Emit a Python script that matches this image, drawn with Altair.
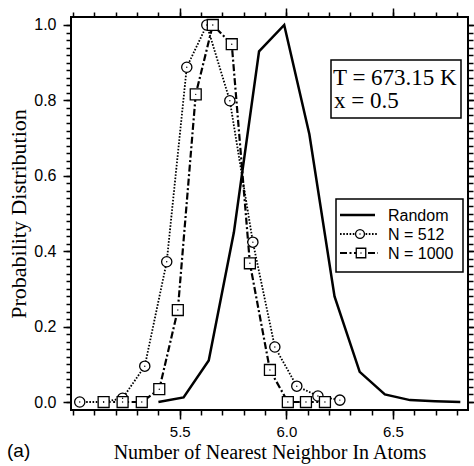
import altair as alt
import pandas as pd

# ---- data ----
random_x = [5.400, 5.518, 5.636, 5.754, 5.872, 5.990, 6.108, 6.226, 6.344, 6.462, 6.580, 6.698, 6.816]
random_y = [0.000, 0.012, 0.110, 0.450, 0.930, 1.000, 0.710, 0.280, 0.080, 0.020, 0.005, 0.002, 0.000]

n512_x = [5.031, 5.143, 5.232, 5.336, 5.439, 5.533, 5.627, 5.735, 5.843, 5.946, 6.049, 6.148, 6.251]
n512_y = [0.000, 0.000, 0.010, 0.095, 0.372, 0.888, 1.000, 0.799, 0.424, 0.146, 0.042, 0.016, 0.005]

n1000_x = [5.143, 5.232, 5.322, 5.404, 5.491, 5.575, 5.655, 5.744, 5.829, 5.923, 6.007, 6.092, 6.181]
n1000_y = [0.000, 0.000, 0.000, 0.034, 0.244, 0.816, 1.000, 0.949, 0.368, 0.085, 0.000, 0.000, 0.000]

x_major = [5.5, 6.0, 6.5]
x_minor = [round(5.0 + 0.1 * i, 2) for i in range(19)]
y_major = [0.0, 0.2, 0.4, 0.6, 0.8, 1.0]
y_minor = [round(0.02 * i, 2) for i in range(51)]

legend_labels = ["Random", "N = 512", "N = 1000"]
box_lines = ["T = 673.15 K", "x = 0.5"]
panel_label = "(a)"
x_title = "Number of Nearest Neighbor In Atoms"
y_title = "Probability Distribution"

df_r = pd.DataFrame({"x": random_x, "y": random_y})
df_5 = pd.DataFrame({"x": n512_x, "y": n512_y})
df_1 = pd.DataFrame({"x": n1000_x, "y": n1000_y})
one = pd.DataFrame({"a": [0]})

xs = alt.Scale(domain=[4.99, 6.852], nice=False, zero=False)
ys = alt.Scale(domain=[-0.0212, 1.0212], nice=False, zero=False)

SANS = "Liberation Sans"
SERIF = "Liberation Serif"


def xy(df, xaxis=None, yaxis=None):
    return dict(
        x=alt.X("x:Q", scale=xs, axis=xaxis),
        y=alt.Y("y:Q", scale=ys, axis=yaxis),
    )


def ax(orient, values, size, labels=False, title=None, pad=8, tpad=8, fmt=".1f",
       lsize=16, tsize=22):
    kw = dict(orient=orient, values=values, tickSize=size, tickWidth=1.5,
              tickColor="black", domain=False, grid=False, labels=labels,
              format=fmt)
    if labels:
        kw.update(labelFont=SANS, labelFontSize=lsize, labelColor="black",
                  labelPadding=pad)
    if title:
        kw.update(title=title, titleFont=SERIF, titleFontSize=tsize,
                  titleFontWeight="normal", titleColor="black",
                  titlePadding=tpad)
    else:
        kw.update(title=None)
    return alt.Axis(**kw)


inv = alt.Chart(df_r).mark_point(opacity=0)
axis_layers = [
    inv.encode(**xy(df_r,
                    ax("bottom", x_major, 9, True, x_title, pad=5, tpad=3,
                       lsize=15, tsize=20),
                    ax("left", y_major, 8, True, y_title, pad=7, tpad=3))),
    inv.encode(**xy(df_r, ax("bottom", x_minor, 5), ax("left", y_minor, 5))),
    inv.encode(**xy(df_r, ax("top", x_major, 9), ax("right", y_major, 8))),
    inv.encode(**xy(df_r, ax("top", x_minor, 5), ax("right", y_minor, 5))),
]

dot = [1.6, 1.6]
dashdot = [7, 2.5, 2, 2.5]

line_r = alt.Chart(df_r).mark_line(color="black", strokeWidth=2.5).encode(**xy(df_r))
line_5 = alt.Chart(df_5).mark_line(color="black", strokeWidth=1.8, strokeDash=dot).encode(**xy(df_5))
line_1 = alt.Chart(df_1).mark_line(color="black", strokeWidth=2.2, strokeDash=dashdot).encode(**xy(df_1))
pts_5 = alt.Chart(df_5).mark_point(shape="circle", size=105, filled=False, fill="white",
                                   fillOpacity=1, stroke="black", strokeWidth=1.3,
                                   opacity=1).encode(**xy(df_5))
pts_1 = alt.Chart(df_1).mark_point(shape="square", size=120, filled=False, fill="white",
                                   fillOpacity=1, stroke="black", strokeWidth=1.3,
                                   opacity=1).encode(**xy(df_1))
cen_5 = alt.Chart(df_5).mark_point(shape="circle", size=2, filled=True, color="black",
                                   opacity=1).encode(**xy(df_5))
cen_1 = alt.Chart(df_1).mark_point(shape="circle", size=2, filled=True, color="black",
                                   opacity=1).encode(**xy(df_1))

# ---- annotation box ----
def rect(x1, x2, y1, y2):
    return alt.Chart(one).mark_rect(fill="white", fillOpacity=0, stroke="black",
                                    strokeWidth=1.5).encode(
        x=alt.value(x1), x2=alt.value(x2), y=alt.value(y1), y2=alt.value(y2))


def text(t, x, y, font, size, baseline="alphabetic"):
    return alt.Chart(one).mark_text(text=t, font=font, fontSize=size, color="black",
                                    align="left", baseline=baseline).encode(
        x=alt.value(x), y=alt.value(y))


def hrule(x1, x2, y, width, dash=None):
    kw = dict(color="black", strokeWidth=width)
    if dash:
        kw["strokeDash"] = dash
    return alt.Chart(one).mark_rule(**kw).encode(
        x=alt.value(x1), x2=alt.value(x2), y=alt.value(y))


def sym(shape, x, y, size):
    return alt.Chart(one).mark_point(shape=shape, size=size, filled=False, fill="white",
                                     fillOpacity=1, stroke="black", strokeWidth=1.3,
                                     opacity=1).encode(x=alt.value(x), y=alt.value(y))


def cdot(x, y):
    return alt.Chart(one).mark_point(shape="circle", size=2, filled=True, color="black",
                                     opacity=1).encode(x=alt.value(x), y=alt.value(y))


ann = [
    rect(260, 390, 43, 101),
    text(box_lines[0], 262, 68, SERIF, 23),
    text(box_lines[1], 263, 91, SERIF, 23),
    rect(265, 392, 182, 255),
    hrule(269, 304, 198, 2.5),
    hrule(269, 307, 217, 1.8, dot),
    hrule(269, 307, 236, 2.2, dashdot),
    sym("circle", 289, 217, 80),
    sym("square", 290, 236, 90),
    cdot(289, 217),
    cdot(290, 236),
    text(legend_labels[0], 317, 204, SANS, 16),
    text(legend_labels[1], 317, 223, SANS, 16),
    text(legend_labels[2], 317, 242, SANS, 16),
    text(panel_label, -64, 440, SANS, 19),
]

chart = alt.layer(
    *axis_layers, line_r, line_5, line_1, pts_5, pts_1, cen_5, cen_1, *ann
).resolve_axis(x="independent", y="independent").properties(
    width=397, height=393,
    autosize="none",
    padding={"left": 71, "top": 17, "right": 6, "bottom": 56},
    background="white",
).configure_view(stroke="black", strokeWidth=2)

chart.save("out.html", embed_options={"renderer": "svg", "actions": False})
